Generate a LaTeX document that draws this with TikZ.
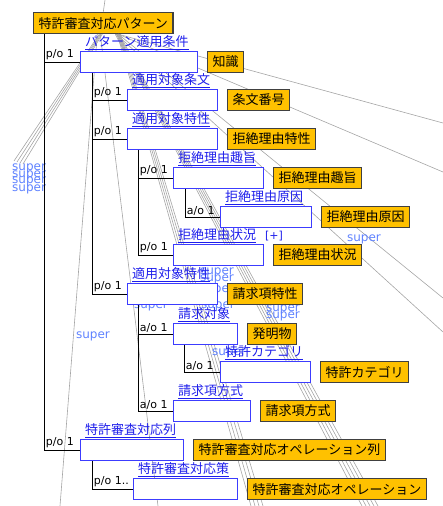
\documentclass[tikz,border=0pt]{standalone}
\usepackage{fontspec}
\setmainfont{DejaVu Sans}
\newfontfamily\jpfont{Noto Sans CJK JP}
\usetikzlibrary{positioning}

\definecolor{clsorange}{RGB}{255,193,0}
\definecolor{slotblue}{RGB}{60,60,255}
\definecolor{rolecol}{RGB}{30,30,235}
\definecolor{supercol}{RGB}{95,130,255}
\definecolor{isagray}{RGB}{165,165,165}

\begin{document}
\begin{tikzpicture}[x=1pt,y=-1pt]
\tikzset{cls/.style={draw=black!75, line width=1.2pt, fill=clsorange, anchor=north west,
  minimum height=21pt, inner xsep=5pt, inner ysep=0pt, font=\jpfont\fontsize{13}{15}\selectfont},
 slot/.style={draw=slotblue, line width=1.1pt, fill=white, anchor=north west,
  minimum height=21pt, inner sep=0pt},
 role/.style={text=rolecol, anchor=south west, inner sep=0pt, xshift=5pt, yshift=1pt,
  font=\jpfont\fontsize{13}{15}\selectfont},
 po/.style={line width=.9pt},
 card/.style={anchor=south west, inner sep=1.5pt, font=\fontsize{11}{12}\selectfont},
 isa/.style={isagray, line width=.6pt},
 sup/.style={text=supercol, inner sep=0pt, font=\fontsize{12}{12}\selectfont}}

\useasboundingbox (0,0) rectangle (443,506);

% Root concept
\node[cls] (pat) at (33,12) {特許審査対応パターン};

% is-a links going out of the view
\coordinate (up) at (105,0);
\coordinate (r1) at (443,123);
\coordinate (r2) at (443,172);
\coordinate (r3) at (443,298);
\coordinate (r4) at (443,332);
\coordinate (a1) at (251,506);
\coordinate (a2) at (255,506);
\coordinate (a3) at (259,506);
\coordinate (a4) at (263,506);
\coordinate (b1) at (362,506);
\coordinate (b2) at (366,506);
\coordinate (b3) at (370,506);
\coordinate (b4) at (374,506);
\coordinate (b5) at (378,506);
\coordinate (l1) at (14,161);
\coordinate (l2) at (17,162);
\coordinate (l3) at (20,163);
\coordinate (l4) at (23,164);
\coordinate (d1) at (60,506);
\coordinate (d2) at (158,506);

\draw[isa] (up) -- (pat.north);
\draw[isa] ([xshift=15pt]pat.south) -- (r1);
\draw[isa] ([xshift=15pt]pat.south) -- (r2);
\draw[isa] ([xshift=15pt]pat.south) -- (r3);
\draw[isa] ([xshift=13pt]pat.south) -- (r4);
\draw[isa] ([xshift=14pt]pat.south) -- (a1);
\draw[isa] ([xshift=15pt]pat.south) -- (a2);
\draw[isa] ([xshift=16pt]pat.south) -- (a3);
\draw[isa] ([xshift=17pt]pat.south) -- (a4);
\draw[isa] ([xshift=12pt]pat.south) -- (b1);
\draw[isa] ([xshift=13pt]pat.south) -- (b2);
\draw[isa] ([xshift=14pt]pat.south) -- (b3);
\draw[isa] ([xshift=15pt]pat.south) -- (b4);
\draw[isa] ([xshift=16pt]pat.south) -- (b5);
\draw[isa] ([xshift=-4pt]pat.south) -- (l1);
\draw[isa] ([xshift=-3pt]pat.south) -- (l2);
\draw[isa] ([xshift=-2pt]pat.south) -- (l3);
\draw[isa] ([xshift=-1pt]pat.south) -- (l4);
\draw[isa] ([xshift=-6pt]pat.south) -- (d1);
\draw[isa] ([xshift=-3pt]pat.south) -- (d2);

% super labels
\node[sup, anchor=west] (s1) at (12,168) {super};
\node[sup, anchor=west] (s2) at (12,175) {super};
\node[sup, anchor=west] (s3) at (12,181) {super};
\node[sup, anchor=west] (s4) at (12,189) {super};
\node[sup] (s5) at (93,336) {super};
\node[sup] (s6) at (364,239) {super};
\node[sup] (s7) at (217,272) {super};
\node[sup] (s8) at (217,279) {super};
\node[sup] (s9) at (217,290) {super};
\node[sup] (s10) at (151,306) {super};
\node[sup] (s11) at (218,306) {super};
\node[sup] (s12) at (283,309) {super};
\node[sup] (s13) at (283,316) {super};
\node[sup, anchor=west] (s14) at (212,353) {super};

% Slots and their classes
\node[slot, minimum width=117pt, label={[role]north west:\underline{パターン適用条件}}] (cond) at (80,51) {};
\node[cls, right=9pt of cond] (know) {知識};

\node[slot, minimum width=90pt, label={[role]north west:\underline{適用対象条文}}] (art) at (127,89) {};
\node[cls, right=9pt of art] (artno) {条文番号};

\node[slot, minimum width=90pt, label={[role]north west:\underline{適用対象特性}}] (prop) at (127,128) {};
\node[cls, right=9pt of prop] (rprop) {拒絶理由特性};

\node[slot, minimum width=90pt, label={[role]north west:\underline{拒絶理由趣旨}}] (gist) at (173,167) {};
\node[cls, right=9pt of gist] (rgist) {拒絶理由趣旨};

\node[slot, minimum width=91pt, label={[role]north west:\underline{拒絶理由原因}}] (cause) at (220,206) {};
\node[cls, right=9pt of cause] (rcause) {拒絶理由原因};

\node[slot, minimum width=90pt, label={[role]north west:\underline{拒絶理由状況}\hspace{9pt}{\rmfamily\fontsize{11}{12}\selectfont[+]}}] (stat) at (173,244) {};
\node[cls, right=9pt of stat] (rstat) {拒絶理由状況};

\node[slot, minimum width=90pt, label={[role]north west:\underline{適用対象特性}}] (cprop) at (127,283) {};
\node[cls, right=9pt of cprop] (claimprop) {請求項特性};

\node[slot, minimum width=64pt, label={[role]north west:\underline{請求対象}}] (subj) at (173,323) {};
\node[cls, right=9pt of subj] (invent) {発明物};

\node[slot, minimum width=90pt, label={[role]north west:\underline{特許カテゴリ}}] (cat) at (220,361) {};
\node[cls, right=9pt of cat] (pcat) {特許カテゴリ};

\node[slot, minimum width=77pt, label={[role]north west:\underline{請求項方式}}] (form) at (173,400) {};
\node[cls, right=9pt of form] (cform) {請求項方式};

\node[slot, minimum width=103pt, label={[role]north west:\underline{特許審査対応列}}] (seq) at (80,439) {};
\node[cls, right=9pt of seq] (opseq) {特許審査対応オペレーション列};

\node[slot, minimum width=104pt, label={[role]north west:\underline{特許審査対応策}}] (act) at (133,478) {};
\node[cls, right=9pt of act] (op) {特許審査対応オペレーション};

% part-of / attribute-of links
\draw[po] ([xshift=11pt]pat.south west) |- node[card, pos=.5] {p/o 1} (cond.west);
\draw[po] ([xshift=11pt]pat.south west) |- node[card, pos=.5] {p/o 1} (seq.west);

\draw[po] ([xshift=12pt]cond.south west) |- node[card, pos=.5] {p/o 1} (art.west);
\draw[po] ([xshift=12pt]cond.south west) |- node[card, pos=.5] {p/o 1} (prop.west);
\draw[po] ([xshift=12pt]cond.south west) |- node[card, pos=.5] {p/o 1} (cprop.west);

\draw[po] ([xshift=11pt]prop.south west) |- node[card, pos=.5] {p/o 1} (gist.west);
\draw[po] ([xshift=11pt]prop.south west) |- node[card, pos=.5] {p/o 1} (stat.west);
\draw[po] ([xshift=12pt]gist.south west) |- node[card, pos=.5] {a/o 1} (cause.west);

\draw[po] ([xshift=11pt]cprop.south west) |- node[card, pos=.5] {a/o 1} (subj.west);
\draw[po] ([xshift=11pt]cprop.south west) |- node[card, pos=.5] {a/o 1} (form.west);
\draw[po] ([xshift=11pt]subj.south west) |- node[card, pos=.5] {a/o 1} (cat.west);

\draw[po] ([xshift=12pt]seq.south west) |- node[card, pos=.5] {p/o 1..} (act.west);

\end{tikzpicture}
\end{document}
